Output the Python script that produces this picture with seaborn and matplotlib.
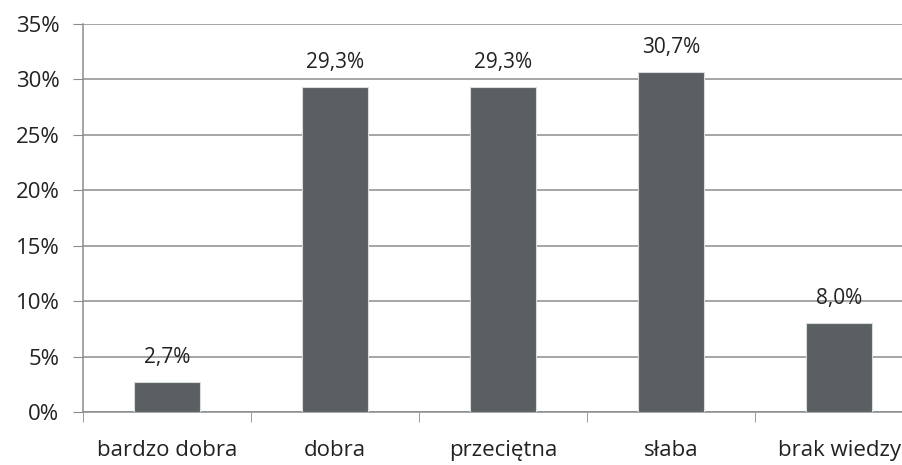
import seaborn as sns
import matplotlib.pyplot as plt
import pandas as pd
from matplotlib.ticker import FuncFormatter, FixedLocator

categories = ["bardzo dobra", "dobra", "przeciętna", "słaba", "brak wiedzy"]
values = [2.7, 29.3, 29.3, 30.7, 8.0]
y_ticks = [0, 5, 10, 15, 20, 25, 30, 35]

sns.set_style("white")
plt.rcParams['font.family'] = ['Open Sans', 'DejaVu Sans']

df = pd.DataFrame({"ocena": categories, "procent": values})

fig = plt.figure(figsize=(9.03, 4.65), dpi=100)
# plot area runs past the right edge, as in the source image
ax = fig.add_axes([83 / 903, 53 / 465, 840 / 903, 388 / 465])

grid_col = "#8a8d8f"
bar_col = "#5a6062"

for y in y_ticks:
    ax.axhline(y, color=grid_col, lw=1.1, zorder=0)

sns.barplot(data=df, x="ocena", y="procent", color=bar_col, width=0.39,
            saturation=1, ax=ax, zorder=3, edgecolor="#d9dbdc", linewidth=0.8)

for i, v in enumerate(values):
    ax.annotate(f"{v:.1f}%".replace(".", ","), (i, v), xytext=(0, 10),
                textcoords="offset points", ha="center", va="bottom",
                fontsize=15, color="#222222")

ax.set_xlim(-0.5, 4.5)
ax.set_ylim(0, 35)
ax.set_yticks(y_ticks)
ax.yaxis.set_major_formatter(FuncFormatter(lambda v, p: f"{v:.0f}%"))
ax.tick_params(axis="y", length=7, color=grid_col, labelsize=16, pad=10,
               labelcolor="#222222", left=True)
ax.xaxis.set_minor_locator(FixedLocator([-0.5, 0.5, 1.5, 2.5, 3.5, 4.5]))
ax.tick_params(axis="x", which="major", length=0, labelsize=16, pad=20,
               labelcolor="#222222")
ax.tick_params(axis="x", which="minor", length=7, color=grid_col, bottom=True)
ax.set_xlabel("")
ax.set_ylabel("")

for s in ["top", "right"]:
    ax.spines[s].set_visible(False)
for s in ["left", "bottom"]:
    ax.spines[s].set_color(grid_col)
    ax.spines[s].set_linewidth(1.1)

fig.savefig("out.png", dpi=100)
